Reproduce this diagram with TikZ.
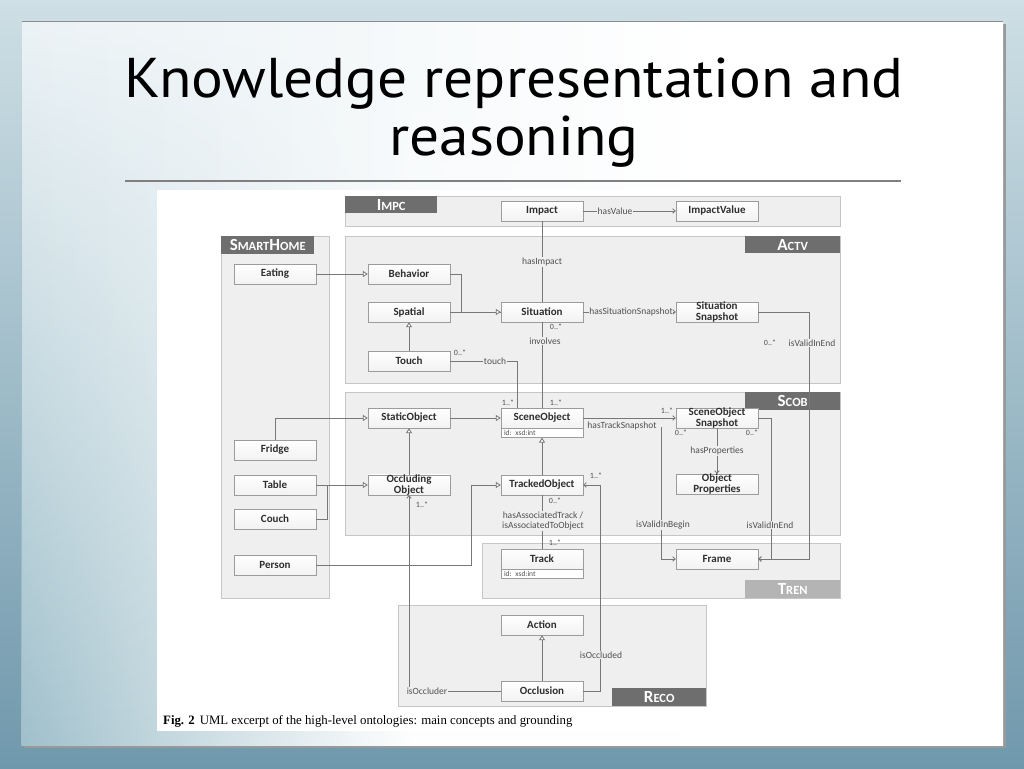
\documentclass[tikz,border=0pt]{standalone}
\usepackage{fontspec}
\usetikzlibrary{arrows.meta,positioning,calc,fadings}
\newfontfamily\calf{Carlito}
\newfontfamily\tmsf{Liberation Serif}
\newfontfamily\ttlf{PT Sans}
\definecolor{panelfill}{HTML}{EFEFEF}
\definecolor{panelline}{HTML}{C6C6C6}
\definecolor{hdrdark}{HTML}{6E6E6E}
\definecolor{hdrlight}{HTML}{B4B4B4}
\definecolor{boxline}{HTML}{9C9C9C}
\definecolor{conn}{HTML}{777777}
\definecolor{lbltext}{HTML}{505050}
\definecolor{boxtext}{HTML}{2E2E2E}
\definecolor{slideblue}{RGB}{160,192,203}
\definecolor{paneltint}{RGB}{236,243,246}
\pgfdeclarehorizontalshading{bluefade}{100bp}{color(0bp)=(slideblue); color(25bp)=(slideblue); color(45bp)=(white); color(100bp)=(white)}
\pgfdeclarehorizontalshading{tintfade}{100bp}{color(0bp)=(paneltint); color(25bp)=(paneltint); color(60bp)=(white); color(100bp)=(white)}
\newcommand{\hsc}[2]{{\fontsize{17}{17}\selectfont #1}{\fontsize{12.5}{17}\selectfont #2}}
\tikzset{
  cls/.style={draw=boxline, top color=white, bottom color={rgb,255:red,242;green,242;blue,242}, minimum width=82pt, minimum height=20pt, inner sep=0pt, align=center, text=boxtext, font=\calf\bfseries\fontsize{11}{10.5}\selectfont},
  attr/.style={draw=boxline, fill=white, minimum width=82pt, minimum height=9pt, inner sep=0pt, inner xsep=3pt, text width=76pt, align=left, text=lbltext, font=\calf\fontsize{7.5}{7.5}\selectfont},
  hdr/.style={fill=hdrdark, text=white, inner sep=0pt, font=\calf\bfseries, anchor=north west},
  pkg/.style={draw=panelline, fill=panelfill, line width=0.8pt},
  conline/.style={draw=conn, line width=0.8pt},
  gen/.style={conline, -{Triangle[open, length=5pt, width=6pt, fill=white]}},
  assoc/.style={conline, -{Straight Barb[length=2.5pt, width=4.5pt]}},
  lbl/.style={font=\calf\fontsize{9.5}{10}\selectfont, text=lbltext, fill=panelfill, inner sep=0.6pt},
  mult/.style={font=\calf\fontsize{8}{8}\selectfont, text=lbltext, inner sep=0pt},
}
\begin{document}
\begin{tikzpicture}[x=1pt,y=-1pt]
\useasboundingbox (0,0) rectangle (1024,768);
% slide background
\shade[top color={rgb,255:red,206;green,223;blue,229}, bottom color={rgb,255:red,112;green,152;blue,172}] (0,0) rectangle (1024,768);
\fill[black!40] (24,24) rectangle (1006,748);
\shade[shading=tintfade] (22,22) rectangle (1003,745);
\shade[shading=bluefade, path fading=north] (22,22) rectangle (1003,745);
\draw[black!45, line width=1pt] (22,22) -- (1003,22);
% title
\node[font=\ttlf\fontsize{56}{60}\selectfont, inner sep=0pt, anchor=base] (t1) at (514,97) {\scalebox{1.06}[1]{Knowledge representation and}};
\node[font=\ttlf\fontsize{56}{60}\selectfont, inner sep=0pt, anchor=base] (t2) at (514,155) {\scalebox{1.06}[1]{reasoning}};
\draw[black!50, line width=2pt] (125,181) -- (901,181);
% figure area
\fill[white] (157,190) rectangle (850,731);
% packages
\draw[pkg] (345,196) rectangle (840,226);
\draw[pkg] (221,236) rectangle (329,598);
\draw[pkg] (345,236) rectangle (840,383);
\draw[pkg] (345,392) rectangle (840,535);
\draw[pkg] (482,543) rectangle (840,598);
\draw[pkg] (398,605) rectangle (706,706);
\node[hdr, minimum width=92pt, minimum height=17pt] (himpc) at (345,196) {\hsc{I}{MPC}};
\node[hdr, minimum width=93pt, minimum height=18pt] (hsmart) at (221,236) {\hsc{S}{MART}\hsc{H}{OME}};
\node[hdr, minimum width=95pt, minimum height=17pt] (hactv) at (745,236) {\hsc{A}{CTV}};
\node[hdr, minimum width=95pt, minimum height=18pt] (hscob) at (745,392) {\hsc{S}{COB}};
\node[hdr, fill=hdrlight, minimum width=95pt, minimum height=18pt] (htren) at (745,580) {\hsc{T}{REN}};
\node[hdr, minimum width=94pt, minimum height=18pt] (hreco) at (612,688) {\hsc{R}{ECO}};
% classes
\node[cls] (impact) at (542,211) {Impact};
\node[cls] (impval) at (717,211) {ImpactValue};
\node[cls] (eating) at (275,274) {Eating};
\node[cls] (behavior) at (409,274) {Behavior};
\node[cls] (spatial) at (409,312) {Spatial};
\node[cls] (situation) at (542,312) {Situation};
\node[cls] (sitsnap) at (717,312) {Situation\\Snapshot};
\node[cls] (touch) at (409,361) {Touch};
\node[cls] (static) at (409,418) {StaticObject};
\node[cls] (scene) at (542,418) {SceneObject};
\node[attr, below=0pt of scene] (sceneattr) {id: xsd:int};
\node[cls] (scsnap) at (717,418) {SceneObject\\Snapshot};
\node[cls] (fridge) at (275,450) {Fridge};
\node[cls] (table) at (275,485) {Table};
\node[cls] (couch) at (275,519) {Couch};
\node[cls] (occobj) at (409,485) {Occluding\\Object};
\node[cls] (tracked) at (542,485) {TrackedObject};
\node[cls] (objprop) at (717,484) {Object\\Properties};
\node[cls] (person) at (275,565) {Person};
\node[cls] (track) at (542,559) {Track};
\node[attr, below=0pt of track] (trackattr) {id: xsd:int};
\node[cls] (frame) at (717,559) {Frame};
\node[cls] (action) at (542,625) {Action};
\node[cls] (occlusion) at (542,691) {Occlusion};
% connectors
\draw[assoc] (impact) -- (impval);
\node[lbl] (lhv) at (615,211) {hasValue};
\draw[conline] (impact) -- (situation);
\node[lbl] (lhi) at (542,262) {hasImpact};
\draw[gen] (eating) -- (behavior);
\draw[conline] (spatial.east) -- (situation.west);
\draw[gen] (behavior.east) -- ++(11,0) |- (situation.west);
\draw[gen] (touch) -- (spatial);
\draw[assoc] (situation) -- (sitsnap);
\node[lbl] (lhss) at (631,312) {hasSituationSnapshot};
\draw[conline] (situation) -- (scene);
\node[lbl] (linv) at (545,341) {involves};
\node[mult] (m1) at (556,327) {0..*};
\node[mult] (m2) at (556,403) {1..*};
\draw[conline] (touch.east) -| ($(scene.north)+(-25,0)$);
\node[lbl] (ltouch) at (495,361) {touch};
\node[mult] (m3) at (460,353) {0..*};
\node[mult] (m4) at (508,403) {1..*};
\draw[assoc] (sitsnap.east) -- ++(51,0) |- (frame.east);
\node[lbl] (lve1) at (812,343) {isValidInEnd};
\node[mult] (m5) at (770,343) {0..*};
\draw[gen] (static) -- (scene);
\draw[gen] (fridge.north) |- (static.west);
\draw[gen] (table) -- (occobj);
\draw[conline] (couch.east) -- ++(11,0) |- (table.east);
\draw[gen] (occobj) -- (static);
\draw[gen] (tracked) -- (sceneattr);
\draw[gen] (person.east) -- ++(155,0) |- (tracked.west);
\draw[assoc] (scene) -- (scsnap);
\node[lbl, fill=none] (lhts) at (622,426) {hasTrackSnapshot};
\node[mult] (m6) at (667,411) {1..*};
\draw[assoc] (scsnap) -- (objprop);
\node[lbl] (lhp) at (717,451) {hasProperties};
\coordinate (vb) at (661,427);
\draw[assoc] (vb) |- (frame.west);
\node[lbl] (lvb) at (663,525) {isValidInBegin};
\node[mult] (m7) at (681,433) {0..*};
\draw[assoc] (scsnap.east) -- ++(13,0) |- (frame.east);
\node[lbl] (lve2) at (770,525) {isValidInEnd};
\node[mult] (m8) at (752,433) {0..*};
\draw[conline] (tracked) -- (track);
\node[lbl, align=center, font=\calf\fontsize{9.5}{10}\selectfont] (lassoc) at (543,521) {hasAssociatedTrack /\\isAssociatedToObject};
\node[mult] (m9) at (555,501) {0..*};
\node[mult] (m10) at (555,543) {1..*};
\draw[gen] (occlusion) -- (action);
\draw[assoc] (occlusion.east) -- ++(17,0) |- (tracked.east);
\node[lbl] (locd) at (601,655) {isOccluded};
\node[mult] (m11) at (596,476) {1..*};
\draw[assoc] (occlusion.west) -| (occobj.south);
\node[lbl] (locr) at (427,691) {isOccluder};
\node[mult] (m12) at (422,505) {1..*};
% caption
\node[anchor=base west, inner sep=0pt, font=\tmsf\fontsize{12.8}{13}\selectfont] (cap) at (163,724) {\textbf{Fig. 2}\hspace{5pt}UML excerpt of the high-level ontologies: main concepts and grounding};
\end{tikzpicture}
\end{document}
